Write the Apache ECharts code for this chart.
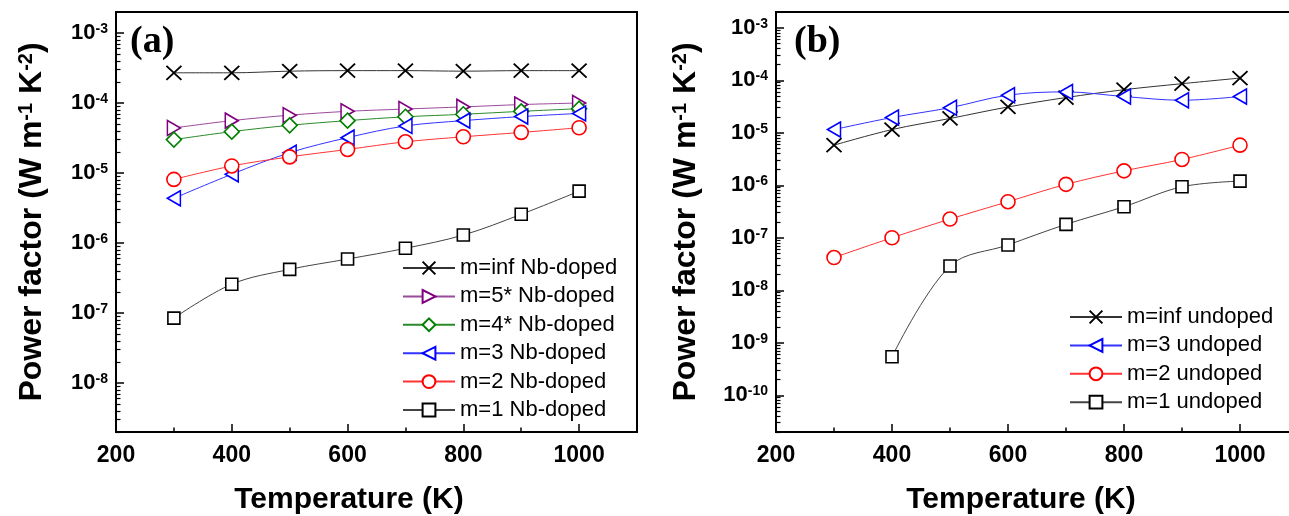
<!DOCTYPE html>
<html><head><meta charset="utf-8">
<script src="https://cdn.jsdelivr.net/npm/echarts@6/dist/echarts.min.js"></script>
<style>html,body{margin:0;padding:0;background:#fff}#c{width:1289px;height:516px}</style>
</head><body><div id="c"></div>
<script>
// ---- data ----
const temps = [300, 400, 500, 600, 700, 800, 900, 1000];
const xTickLabels = [200, 400, 600, 800, 1000];
const xMinorTicks = [300, 500, 700, 900];
const decadesA = [-8, -7, -6, -5, -4, -3];
const decadesB = [-10, -9, -8, -7, -6, -5, -4, -3];
// (a) Nb-doped
const nbInf = [2.7e-4, 2.7e-4, 2.85e-4, 2.9e-4, 2.9e-4, 2.85e-4, 2.9e-4, 2.9e-4];
const nb5 = [4.4e-5, 5.6e-5, 6.7e-5, 7.6e-5, 8.2e-5, 8.8e-5, 9.5e-5, 1.0e-4];
const nb4 = [3.0e-5, 3.9e-5, 4.8e-5, 5.6e-5, 6.35e-5, 6.9e-5, 7.6e-5, 8.3e-5];
const nb3 = [4.35e-6, 9.6e-6, 1.95e-5, 3.2e-5, 4.7e-5, 5.6e-5, 6.4e-5, 7.1e-5];
const nb2 = [8.1e-6, 1.26e-5, 1.7e-5, 2.17e-5, 2.79e-5, 3.29e-5, 3.8e-5, 4.43e-5];
const nb1 = [8.45e-8, 2.58e-7, 4.2e-7, 5.9e-7, 8.4e-7, 1.3e-6, 2.57e-6, 5.5e-6];
// (b) undoped
const unInf = [5.8e-6, 1.15e-5, 1.87e-5, 3.1e-5, 4.68e-5, 6.6e-5, 8.6e-5, 1.1e-4];
const un3 = [1.15e-5, 1.95e-5, 3.0e-5, 5.2e-5, 6.0e-5, 4.9e-5, 4.16e-5, 4.9e-5];
const un2 = [4.2e-8, 1.0e-7, 2.27e-7, 4.86e-7, 1.04e-6, 1.88e-6, 3.1e-6, 5.8e-6];
const un1 = [null, 5.4e-10, 2.9e-8, 7.3e-8, 1.8e-7, 3.9e-7, 9.35e-7, 1.2e-6];

// ---- helpers ----
const FONT = 'Liberation Sans, Arial, sans-serif';
function toLog(vals) {
  const out = [];
  vals.forEach((v, i) => { if (v != null) out.push([temps[i], Math.log10(v)]); });
  return out;
}
function minorLog(decs) {
  const out = [];
  for (let d = decs[0] - 1; d <= decs[decs.length - 1]; d++) {
    for (let k = 2; k <= 9; k++) out.push(Math.log10(k) + d);
  }
  return out;
}
const SYM = {
  x: 'path://M0,0L10,10M10,0L0,10',
  tri_r: 'path://M0,0L10,5L0,10Z',
  tri_l: 'path://M10,0L0,5L10,10Z'
};
function mk(name, vals, color, lineColor, symbol, size, grid, bw) {
  return {
    name, type: 'line', xAxisIndex: grid * 2, yAxisIndex: grid * 2,
    data: toLog(vals), smooth: 0.35,
    symbol, symbolSize: size, showSymbol: true,
    lineStyle: { color: lineColor, width: 1 },
    itemStyle: { color: '#fff', borderColor: color, borderWidth: bw || 1.6 },
    emphasis: { disabled: true }, animation: false
  };
}
function xAxes(grid) {
  return [
    { type: 'value', gridIndex: grid, min: 200, max: 1100, position: 'bottom',
      axisLine: { show: true, lineStyle: { color: '#000', width: 2 } },
      axisTick: { show: true, inside: true, length: 8, customValues: xTickLabels, lineStyle: { color: '#000', width: 1.5 } },
      axisLabel: { customValues: xTickLabels, margin: 12, color: '#000', fontSize: 23, fontWeight: 'bold', fontFamily: FONT,
        formatter: v => String(Math.round(v)) },
      splitLine: { show: false } },
    { type: 'value', gridIndex: grid, min: 200, max: 1100, position: 'bottom',
      axisLine: { show: false },
      axisTick: { show: true, inside: true, length: 4.5, customValues: xMinorTicks, lineStyle: { color: '#000', width: 1.5 } },
      axisLabel: { show: false }, splitLine: { show: false } }
  ];
}
function yAxes(grid, min, max, decs) {
  return [
    { type: 'value', gridIndex: grid, min, max, position: 'left',
      axisLine: { show: true, lineStyle: { color: '#000', width: 2 } },
      axisTick: { show: true, inside: true, length: 8, customValues: decs, lineStyle: { color: '#000', width: 1.5 } },
      axisLabel: { customValues: decs, margin: 8, color: '#000',
        formatter: v => '{b|10}{s|' + Math.round(v) + '}',
        rich: { b: { fontSize: 22, fontWeight: 'bold', fontFamily: FONT, color: '#000' },
                s: { fontSize: 14, fontWeight: 'bold', fontFamily: FONT, color: '#000', verticalAlign: 'top' } } },
      splitLine: { show: false } },
    { type: 'value', gridIndex: grid, min, max, position: 'left',
      axisLine: { show: false },
      axisTick: { show: true, inside: true, length: 4.5, customValues: minorLog(decs).filter(v => v > min && v < max), lineStyle: { color: '#000', width: 1.2 } },
      axisLabel: { show: false }, splitLine: { show: false } }
  ];
}
const ytitleRich = { s: { fontSize: 20, fontWeight: 'bold', fontFamily: FONT, fill: '#000', verticalAlign: 'top' } };
function ytitle(x) {
  return { type: 'text', x, y: 222, rotation: Math.PI / 2,
    style: { text: 'Power factor (W m{s|-1} K{s|-2})', fontSize: 32, fontWeight: 'bold', fontFamily: FONT, fill: '#000',
      align: 'center', verticalAlign: 'middle', rich: ytitleRich } };
}
function xtitle(x) {
  return { type: 'text', x, y: 500,
    style: { text: 'Temperature (K)', fontSize: 30, fontWeight: 'bold', fontFamily: FONT, fill: '#000', align: 'center', verticalAlign: 'middle' } };
}
function panel(t, x) {
  return { type: 'text', x, y: 42,
    style: { text: t, fontSize: 38, fontWeight: 'bold', fontFamily: 'Liberation Serif, Times New Roman, serif', fill: '#000', align: 'left', verticalAlign: 'middle' } };
}

const series = [
  mk('m=inf Nb-doped', nbInf, '#000', '#333', SYM.x, [15, 14], 0, 1.8),
  mk('m=5* Nb-doped', nb5, '#800080', '#9a4a9a', SYM.tri_r, [13, 15], 0),
  mk('m=4* Nb-doped', nb4, '#008000', '#2a8a2a', 'diamond', [15, 15], 0),
  mk('m=3 Nb-doped', nb3, '#0000ff', '#3333ff', SYM.tri_l, [13, 15], 0),
  mk('m=2 Nb-doped', nb2, '#ff0000', '#ff3333', 'circle', [14, 14], 0),
  mk('m=1 Nb-doped', nb1, '#000', '#444', 'rect', [12, 12], 0),
  mk('m=inf undoped', unInf, '#000', '#333', SYM.x, [15, 14], 1, 1.8),
  mk('m=3 undoped', un3, '#0000ff', '#3333ff', SYM.tri_l, [13, 15], 1),
  mk('m=2 undoped', un2, '#ff0000', '#ff3333', 'circle', [14, 14], 1),
  mk('m=1 undoped', un1, '#000', '#444', 'rect', [12, 12], 1)
];
const legendText = { fontSize: 22, fontFamily: FONT, color: '#000' };
const option = {
  animation: false,
  backgroundColor: '#fff',
  grid: [
    { left: 116, top: 12, width: 521, height: 420, show: true, borderColor: '#000', borderWidth: 2, containLabel: false, outerBoundsMode: 'none' },
    { left: 776, top: 12, width: 522, height: 420, show: true, borderColor: '#000', borderWidth: 2, containLabel: false, outerBoundsMode: 'none' }
  ],
  xAxis: [...xAxes(0), ...xAxes(1)],
  yAxis: [...yAxes(0, -8.7, -2.7, decadesA), ...yAxes(1, -10.7, -2.7, decadesB)],
  legend: [
    { orient: 'vertical', left: 402, top: 257, padding: 0, itemWidth: 52, itemHeight: 16, itemGap: 6.4, selectedMode: false,
      textStyle: legendText, data: series.slice(0, 6).map(s => s.name) },
    { orient: 'vertical', left: 1069, top: 306, padding: 0, itemWidth: 52, itemHeight: 16, itemGap: 6.4, selectedMode: false,
      textStyle: legendText, data: series.slice(6).map(s => s.name) }
  ],
  graphic: [ytitle(32), ytitle(686), xtitle(349), xtitle(1021), panel('(a)', 130), panel('(b)', 794)],
  series
};
echarts.init(document.getElementById('c'), null, { renderer: 'canvas' }).setOption(option);
</script></body></html>
